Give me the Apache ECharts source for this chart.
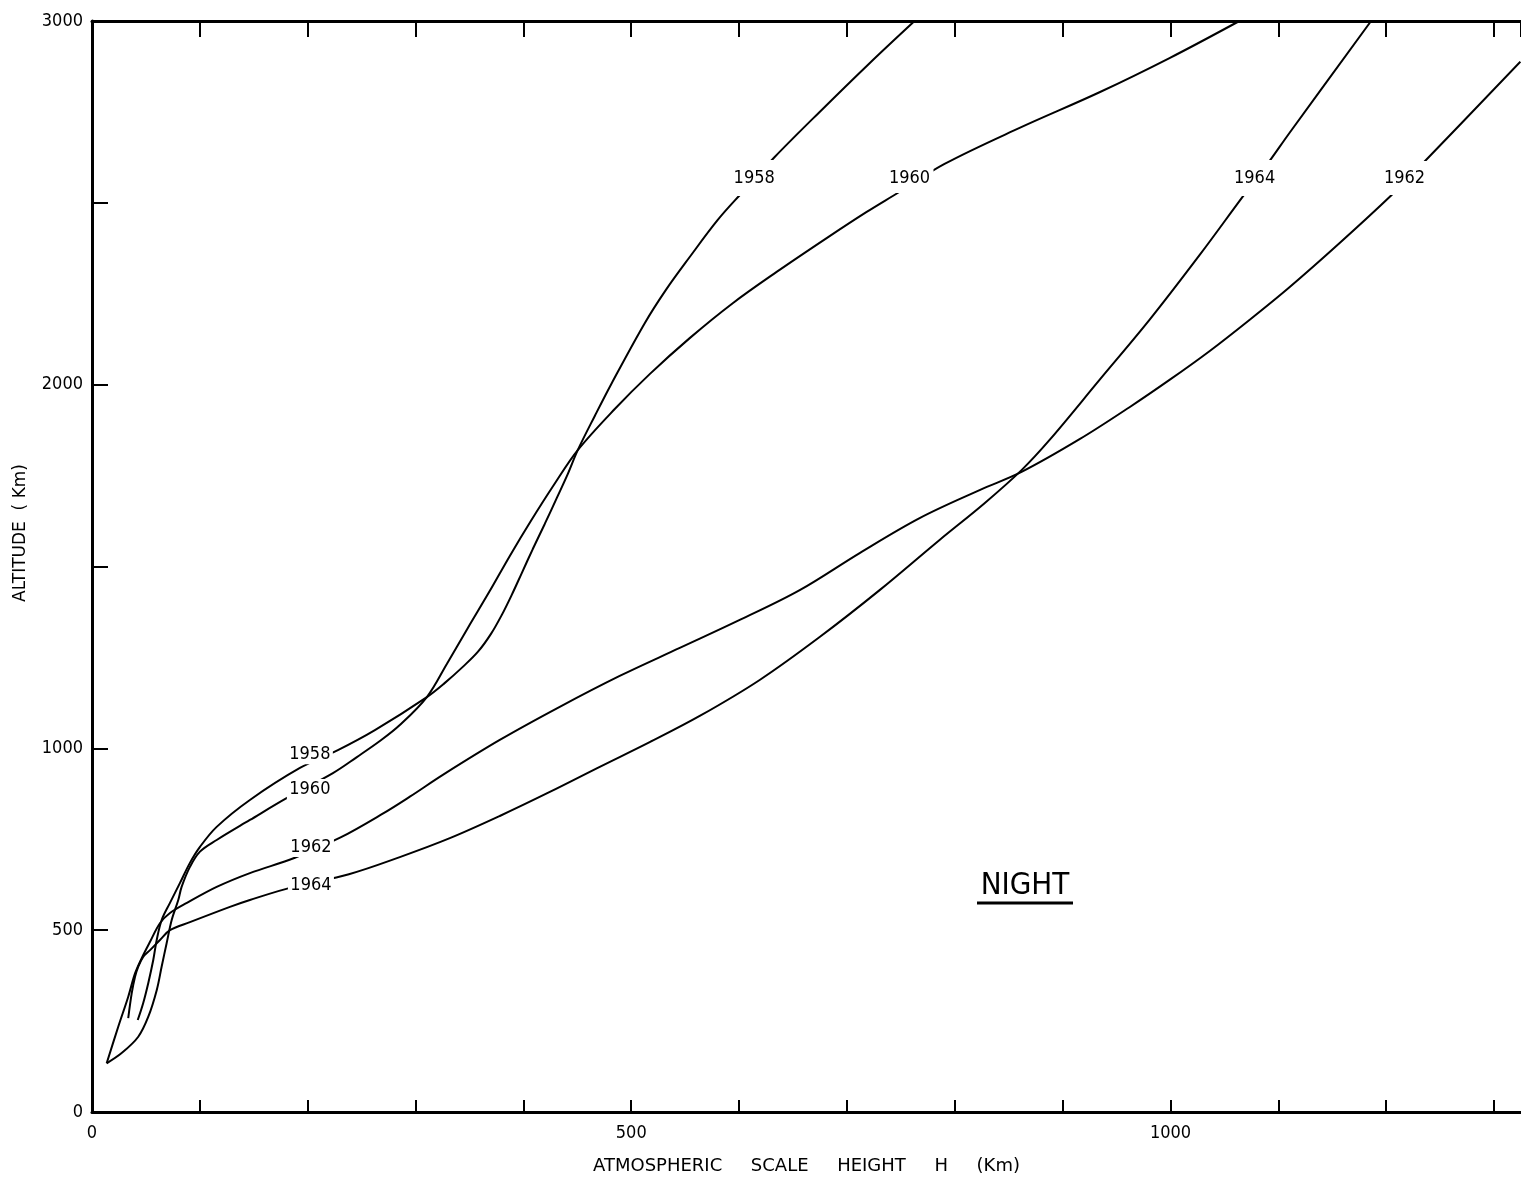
<!DOCTYPE html>
<html>
<head>
<meta charset="utf-8">
<script src="https://cdn.jsdelivr.net/npm/echarts@6/dist/echarts.min.js"></script>
<style>
html, body { margin: 0; padding: 0; background: #fff; }
#chart { width: 1521px; height: 1182px; }
</style>
</head>
<body>
<div id="chart"></div>
<script>
// scale height H (km) vs altitude (km)
var h1958 = [42.4, 47.5, 52.2, 56.8, 60.0, 64.6, 72.3, 81.6, 90.8, 100.1, 115.6, 146.4, 192.8, 228.0, 262.3, 310.5, 327.2, 343.8, 357.7, 369.8, 380.0, 389.2, 398.5, 408.7, 419.8, 430.9, 441.1, 450.4, 466.2, 481.9, 512.5, 532.0, 554.2, 580.2, 602.4, 633.0, 674.7, 721.0, 762.7];
var alt1958 = [253, 300, 355, 418, 473, 528, 575, 630, 685, 729, 784, 858, 946, 995, 1050, 1141, 1180, 1224, 1265, 1314, 1367, 1422, 1482, 1548, 1617, 1688, 1754, 1820, 1914, 2004, 2169, 2260, 2351, 2453, 2527, 2626, 2750, 2884, 3000];

var h1960 = [13.6, 27.5, 42.9, 52.2, 60.0, 64.6, 69.2, 73.9, 80.0, 83.1, 90.8, 100.1, 115.6, 146.4, 180.4, 223.4, 245.6, 266.9, 285.4, 310.5, 329.0, 348.5, 368.9, 387.4, 406.9, 428.2, 450.4, 484.7, 517.1, 554.2, 594.1, 634.8, 681.2, 718.3, 747.0, 790.5, 860.1, 934.2, 999.1, 1063.9];
var alt1960 = [134, 162, 207, 262, 335, 400, 464, 528, 583, 619, 674, 716, 748, 803, 863, 932, 976, 1020, 1064, 1141, 1232, 1331, 1433, 1529, 1625, 1724, 1820, 1933, 2029, 2128, 2224, 2310, 2403, 2475, 2527, 2607, 2706, 2804, 2898, 3000];

var h1962 = [13.6, 24.4, 33.6, 39.9, 46.1, 53.8, 63.0, 72.3, 88.0, 115.6, 146.4, 188.1, 230.5, 270.0, 294.7, 325.3, 378.1, 433.7, 489.3, 545.0, 600.6, 656.2, 711.8, 767.4, 823.0, 861.9, 915.7, 962.0, 999.1, 1036.1, 1073.2, 1110.3, 1156.6, 1204.8, 1233.8, 1324.4];
var alt1962 = [134, 235, 317, 381, 423, 468, 519, 547, 575, 619, 657, 699, 755, 821, 867, 927, 1023, 1114, 1199, 1276, 1353, 1435, 1537, 1633, 1710, 1760, 1850, 1938, 2013, 2092, 2178, 2268, 2389, 2521, 2608, 2888];

var h1964 = [33.6, 36.8, 39.9, 42.9, 47.3, 53.8, 63.0, 72.3, 90.8, 127.9, 146.4, 186.6, 238.2, 285.4, 331.8, 378.1, 424.5, 470.8, 517.1, 563.5, 619.1, 674.7, 730.3, 785.9, 827.6, 861.9, 887.9, 934.2, 980.5, 1026.9, 1067.0, 1090.2, 1110.3, 1186.0];
var alt1964 = [258, 326, 372, 400, 426, 445, 473, 500, 522, 564, 583, 619, 654, 701, 753, 814, 880, 949, 1017, 1089, 1188, 1306, 1435, 1573, 1674, 1765, 1848, 2013, 2178, 2356, 2517, 2608, 2692, 3000];

// where the year labels sit on each curve [H, altitude]
var lab1958 = [[202, 984], [614, 2568]];
var lab1960 = [[202, 888], [758, 2568]];
var lab1962 = [[203, 729], [1217, 2568]];
var lab1964 = [[203, 624], [1078, 2568]];

var xTickLabels = [0, 500, 1000];
var yTickLabels = [0, 500, 1000, 2000, 3000];

var FONT = "'DejaVu Sans Condensed', 'Liberation Sans Narrow', 'DejaVu Sans', sans-serif";
var FONT_WIDE = "'DejaVu Sans', sans-serif";

var myChart = echarts.init(document.getElementById('chart'));

function curve(year, hs, alts, labs, boxes) {
    return {
        name: year,
        type: 'line',
        smooth: 0.35,
        showSymbol: false,
        silent: true,
        data: hs.map(function (h, i) { return [h, alts[i]]; }),
        lineStyle: { color: '#000', width: 2 },
        markPoint: {
            silent: true,
            symbol: 'rect',
            data: labs.map(function (p, i) {
                return { coord: p, value: year, symbolSize: boxes[i] };
            }),
            itemStyle: { color: '#fff' },
            label: {
                show: true,
                position: 'inside',
                formatter: '{c}',
                color: '#000',
                fontFamily: FONT,
                fontSize: 18
            }
        }
    };
}

var axisLine = { show: true, lineStyle: { color: '#000', width: 3 } };

option = {
    backgroundColor: '#fff',
    animation: false,
    grid: { left: 92, right: 0, top: 21, bottom: 70 },
    xAxis: [{
        type: 'value',
        min: 0,
        max: 1325,
        interval: 100,
        position: 'bottom',
        axisLine: axisLine,
        axisTick: { show: true, inside: true, length: 12, lineStyle: { color: '#000', width: 2 } },
        splitLine: { show: false },
        axisLabel: {
            color: '#000',
            fontFamily: FONT,
            fontSize: 18,
            margin: 12,
            showMaxLabel: false,
            formatter: function (v) { return xTickLabels.indexOf(v) >= 0 ? String(v) : ''; }
        },
        name: 'ATMOSPHERIC     SCALE     HEIGHT     H     (Km)',
        nameLocation: 'middle',
        nameGap: 45,
        nameTextStyle: { color: '#000', fontFamily: FONT_WIDE, fontSize: 18 }
    }, {
        type: 'value',
        min: 0,
        max: 1325,
        interval: 100,
        position: 'top',
        axisLine: axisLine,
        axisTick: { show: true, inside: true, length: 16, lineStyle: { color: '#000', width: 2 } },
        splitLine: { show: false },
        axisLabel: { show: false }
    }],
    yAxis: {
        type: 'value',
        min: 0,
        max: 3000,
        interval: 500,
        axisLine: axisLine,
        axisTick: { show: true, inside: true, length: 16, lineStyle: { color: '#000', width: 2 } },
        splitLine: { show: false },
        axisLabel: {
            color: '#000',
            fontFamily: FONT,
            fontSize: 18,
            margin: 9,
            formatter: function (v) { return yTickLabels.indexOf(v) >= 0 ? String(v) : ''; }
        }
    },
    graphic: [{
        type: 'text',
        x: 21,
        y: 533,
        rotation: Math.PI / 2,
        style: {
            text: 'ALTITUDE  ( Km)',
            fill: '#000',
            font: '17px ' + FONT_WIDE,
            align: 'center',
            verticalAlign: 'middle'
        }
    }, {
        type: 'text',
        x: 1025,
        y: 886,
        style: {
            text: 'NIGHT',
            fill: '#000',
            font: '31px ' + FONT,
            align: 'center',
            verticalAlign: 'middle'
        }
    }, {
        type: 'line',
        shape: { x1: 977, y1: 903, x2: 1073, y2: 903 },
        style: { stroke: '#000', lineWidth: 3 }
    }],
    series: [
        curve('1958', h1958, alt1958, lab1958, [[46, 20], [42, 36]]),
        curve('1960', h1960, alt1960, lab1960, [[46, 20], [48, 30]]),
        curve('1962', h1962, alt1962, lab1962, [[46, 20], [46, 34]]),
        curve('1964', h1964, alt1964, lab1964, [[46, 20], [42, 36]])
    ]
};
myChart.setOption(option);
</script>
</body>
</html>
